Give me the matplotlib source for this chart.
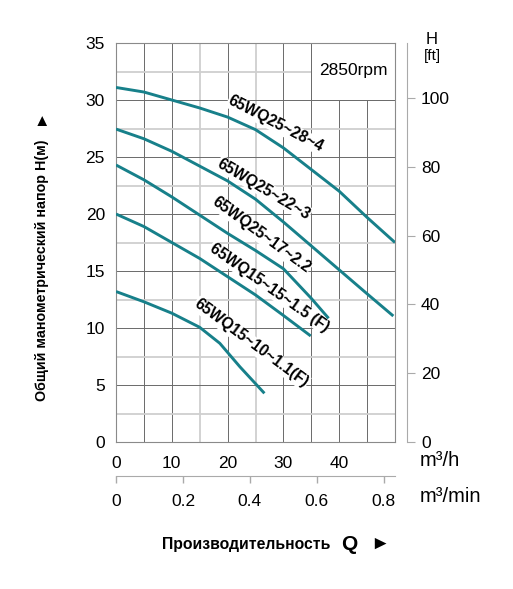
import numpy as np
import matplotlib
matplotlib.use("Agg")
import matplotlib.pyplot as plt
from matplotlib.patches import Rectangle

plt.rcParams["font.family"] = ["Liberation Sans", "DejaVu Sans"]

# flow in m3/h, head in m
q_28_4 = [0, 5, 10, 15, 20, 25, 30, 35, 40, 45, 50]
h_28_4 = [31.1, 30.7, 30.0, 29.3, 28.5, 27.4, 25.8, 23.9, 22.0, 19.7, 17.5]

q_22_3 = [0, 5, 10, 15, 20, 25, 30, 35, 40, 45, 49.7]
h_22_3 = [27.45, 26.6, 25.5, 24.2, 22.9, 21.3, 19.3, 17.2, 15.1, 13.0, 11.05]

q_17_2 = [0, 5, 10, 15, 20, 25, 30, 35, 38.1]
h_17_2 = [24.3, 23.0, 21.5, 19.9, 18.3, 16.8, 15.2, 12.6, 10.85]

q_15_1 = [0, 5, 10, 15, 20, 25, 30, 34.9]
h_15_1 = [20.0, 18.9, 17.5, 16.1, 14.5, 12.9, 11.1, 9.3]

q_10_1 = [0, 5, 10, 15, 18.6, 22.2, 26.6]
h_10_1 = [13.2, 12.3, 11.3, 10.06, 8.66, 6.6, 4.27]

models = ["65WQ25~28~4", "65WQ25~22~3", "65WQ25~17~2.2",
          "65WQ15~15~1.5 (F)", "65WQ15~10~1.1(F)"]
curves = [(q_28_4, h_28_4), (q_22_3, h_22_3), (q_17_2, h_17_2),
          (q_15_1, h_15_1), (q_10_1, h_10_1)]
# label anchor (m3/h, m) and angle
label_pos = [(28.6, 27.9, -27.4), (26.5, 22.2, -30.6), (26.0, 18.15, -36.2),
             (27.4, 13.55, -35.2), (24.2, 8.65, -36.5)]

x_ticks = [0, 10, 20, 30, 40]
y_ticks = [0, 5, 10, 15, 20, 25, 30, 35]
ft_ticks = [0, 20, 40, 60, 80, 100]
min_ticks = [0, 0.2, 0.4, 0.6, 0.8]

W, H = 513, 589
fig = plt.figure(figsize=(W / 100, H / 100), dpi=100)
ax = fig.add_axes([116 / W, (H - 442) / H, 279 / W, 399 / H])
ax.set_xlim(0, 50)
ax.set_ylim(0, 35)

dark = "#6a6a6a"
light = "#cfcfcf"
for v in np.arange(5, 50, 5):
    c, lw = (light, 1.3) if v in (15, 25) else (dark, 0.7)
    ax.axvline(v, color=c, lw=lw, zorder=1)
for v in np.arange(2.5, 35, 2.5):
    c, lw = (dark, 0.7) if v % 5 == 0 else (light, 1.3)
    ax.axhline(v, color=c, lw=lw, zorder=1)

# white box for the speed note
ax.add_patch(Rectangle((35, 30), 15, 5, facecolor="white", edgecolor=dark,
                       lw=0.7, zorder=2))
ax.text(42.6, 32.6, "2850rpm", fontsize=12.5, ha="center", va="center", zorder=3)

teal = "#17808a"
for (q, h) in curves:
    ax.plot(q, h, color=teal, lw=2.1, zorder=6, solid_capstyle="butt")

for name, (lx, ly, ang) in zip(models, label_pos):
    ax.text(lx, ly, name, fontsize=11.2, fontweight="bold", rotation=ang,
            rotation_mode="anchor", ha="center", va="center", zorder=5,
            bbox=dict(facecolor="white", edgecolor="none", pad=0.5))

for s in ax.spines.values():
    s.set_color("#8a8a8a")
    s.set_linewidth(0.8)

ax.set_xticks(x_ticks)
ax.set_xticklabels([str(v) for v in x_ticks])
ax.set_yticks(y_ticks)
ax.set_yticklabels([str(v) for v in y_ticks])
ax.tick_params(axis="x", length=0, pad=10, labelsize=12.5)
ax.tick_params(axis="y", length=0, pad=8, labelsize=12.5)

# m3/min axis below
sec = ax.secondary_xaxis(-34 / 399, functions=(lambda x: x / 60, lambda x: x * 60))
sec.set_xticks(min_ticks)
sec.set_xticklabels(["0", "0.2", "0.4", "0.6", "0.8"])
sec.tick_params(length=5, width=1, color="#aaaaaa", pad=8, labelsize=12.5)
sec.spines["bottom"].set_color("#aaaaaa")

# feet axis on the right
axf = ax.twinx()
axf.set_ylim(0, 116)
axf.spines["right"].set_position(("outward", 12 * 72 / 100))
axf.spines["right"].set_color("#aaaaaa")
for k in ("left", "top", "bottom"):
    axf.spines[k].set_visible(False)
axf.set_yticks(ft_ticks)
axf.set_yticklabels([str(v) for v in ft_ticks])
axf.tick_params(axis="y", length=6, color="#aaaaaa", pad=4, labelsize=12.5)

fig.text(432 / W, 1 - 40 / H, "H", fontsize=12, ha="center", va="center")
fig.text(432 / W, 1 - 56 / H, "[ft]", fontsize=11, ha="center", va="center")
fig.text(420 / W, 1 - 461 / H, "m³/h", fontsize=14.5, ha="left", va="center")
fig.text(420 / W, 1 - 496 / H, "m³/min", fontsize=14.5, ha="left", va="center")

fig.text(42 / W, 1 - 270 / H, "Общий манометрический напор H(м)",
         rotation=90, fontsize=10.3, fontweight="bold", ha="center", va="center")
fig.text(42 / W, 1 - 121 / H, "▲", fontsize=12, ha="center", va="center")
fig.text(162 / W, 1 - 545 / H, "Производительность", fontsize=11.3,
         fontweight="bold", ha="left", va="center")
fig.text(349 / W, 1 - 544 / H, "Q", fontsize=15, fontweight="bold",
         ha="center", va="center")
fig.text(380 / W, 1 - 544 / H, "►", fontsize=14, ha="center", va="center")

fig.savefig("out.png", dpi=100)
